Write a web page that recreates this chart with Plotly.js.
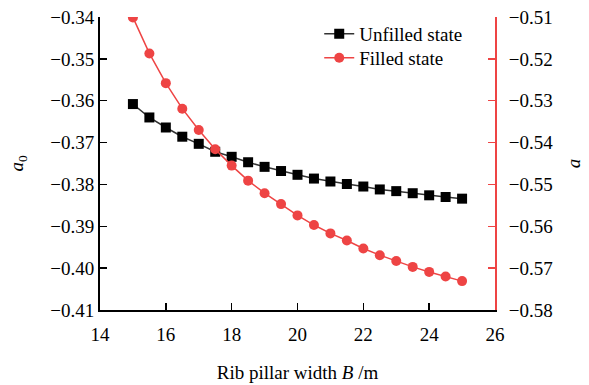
<!DOCTYPE html>
<html>
<head>
<meta charset="utf-8">
<script src="https://cdn.plot.ly/plotly-3.0.1.min.js"></script>
<style>html,body{margin:0;padding:0;background:#fff;}#chart{width:589px;height:385px;}</style>
</head>
<body>
<div id="chart"></div>
<script>
const widthB = [15,15.5,16,16.5,17,17.5,18,18.5,19,19.5,20,20.5,21,21.5,22,22.5,23,23.5,24,24.5,25];
const unfilledA0 = [-0.3608,-0.3640,-0.3664,-0.3686,-0.3703,-0.3722,-0.3734,-0.3747,-0.3758,-0.3768,-0.3777,-0.3786,-0.3793,-0.3799,-0.3805,-0.3812,-0.3816,-0.3821,-0.3826,-0.3830,-0.3834];
const filledA = [-0.5101,-0.5187,-0.5258,-0.5319,-0.5370,-0.5416,-0.5455,-0.5491,-0.5521,-0.5547,-0.5574,-0.5597,-0.5617,-0.5634,-0.5653,-0.5669,-0.5683,-0.5697,-0.5709,-0.5720,-0.5731];
const seriesNames = ['Unfilled state','Filled state'];

const FONT = 'Liberation Serif, Times New Roman, serif';
const RED = '#ee4444';

const traces = [
  {x: widthB, y: unfilledA0, name: seriesNames[0], type: 'scatter', mode: 'lines+markers',
   line: {color: '#333', width: 1.5}, marker: {symbol: 'square', size: 10, color: '#000'}, yaxis: 'y', legend: 'legend'},
  {x: widthB, y: filledA, name: seriesNames[1], type: 'scatter', mode: 'lines+markers',
   line: {color: RED, width: 1.5}, marker: {symbol: 'circle', size: 10, color: RED}, yaxis: 'y2', legend: 'legend2'}
];

const legendBase = {x: 0.555, xanchor: 'left', yanchor: 'top', bgcolor: 'rgba(0,0,0,0)',
  font: {family: FONT, size: 19}, itemwidth: 30};

const layout = {
  width: 589, height: 385,
  margin: {l: 100, r: 94, t: 17, b: 75},
  paper_bgcolor: '#fff', plot_bgcolor: '#fff',
  font: {family: FONT, size: 19, color: '#000'},
  showlegend: true,
  legend: Object.assign({}, legendBase, {y: 1.007}),
  legend2: Object.assign({}, legendBase, {y: 0.925}),
  xaxis: {range: [14, 26], dtick: 2, tick0: 14, showgrid: false, zeroline: false,
          showline: true, linecolor: '#000', linewidth: 2, ticks: 'inside', ticklen: 7,
          tickwidth: 1.5, tickcolor: '#000', ticklabelstandoff: 6,
          title: {text: 'Rib pillar width <i>B</i> /m', font: {family: FONT, size: 19}, standoff: 22}},
  yaxis: {range: [-0.41, -0.34], dtick: 0.01, tick0: -0.41, tickformat: '.2f', showgrid: false, zeroline: false,
          showline: true, linecolor: '#000', linewidth: 2, ticks: 'inside', ticklen: 7,
          tickwidth: 1.5, tickcolor: '#000',
          title: {text: '<i>a</i><sub>0</sub>', font: {family: FONT, size: 19}, standoff: 22}},
  yaxis2: {range: [-0.58, -0.51], dtick: 0.01, tick0: -0.58, tickformat: '.2f', overlaying: 'y', side: 'right',
           showgrid: false, zeroline: false, showline: true, linecolor: RED, linewidth: 2,
           ticks: 'inside', ticklen: 7, tickwidth: 1.5, tickcolor: RED, ticklabelstandoff: 8,
           tickfont: {color: '#000'},
           title: {text: '<i>a</i>', font: {family: FONT, size: 19}, standoff: 14}}
};

Plotly.newPlot('chart', traces, layout, {displayModeBar: false, staticPlot: true});
</script>
</body>
</html>
